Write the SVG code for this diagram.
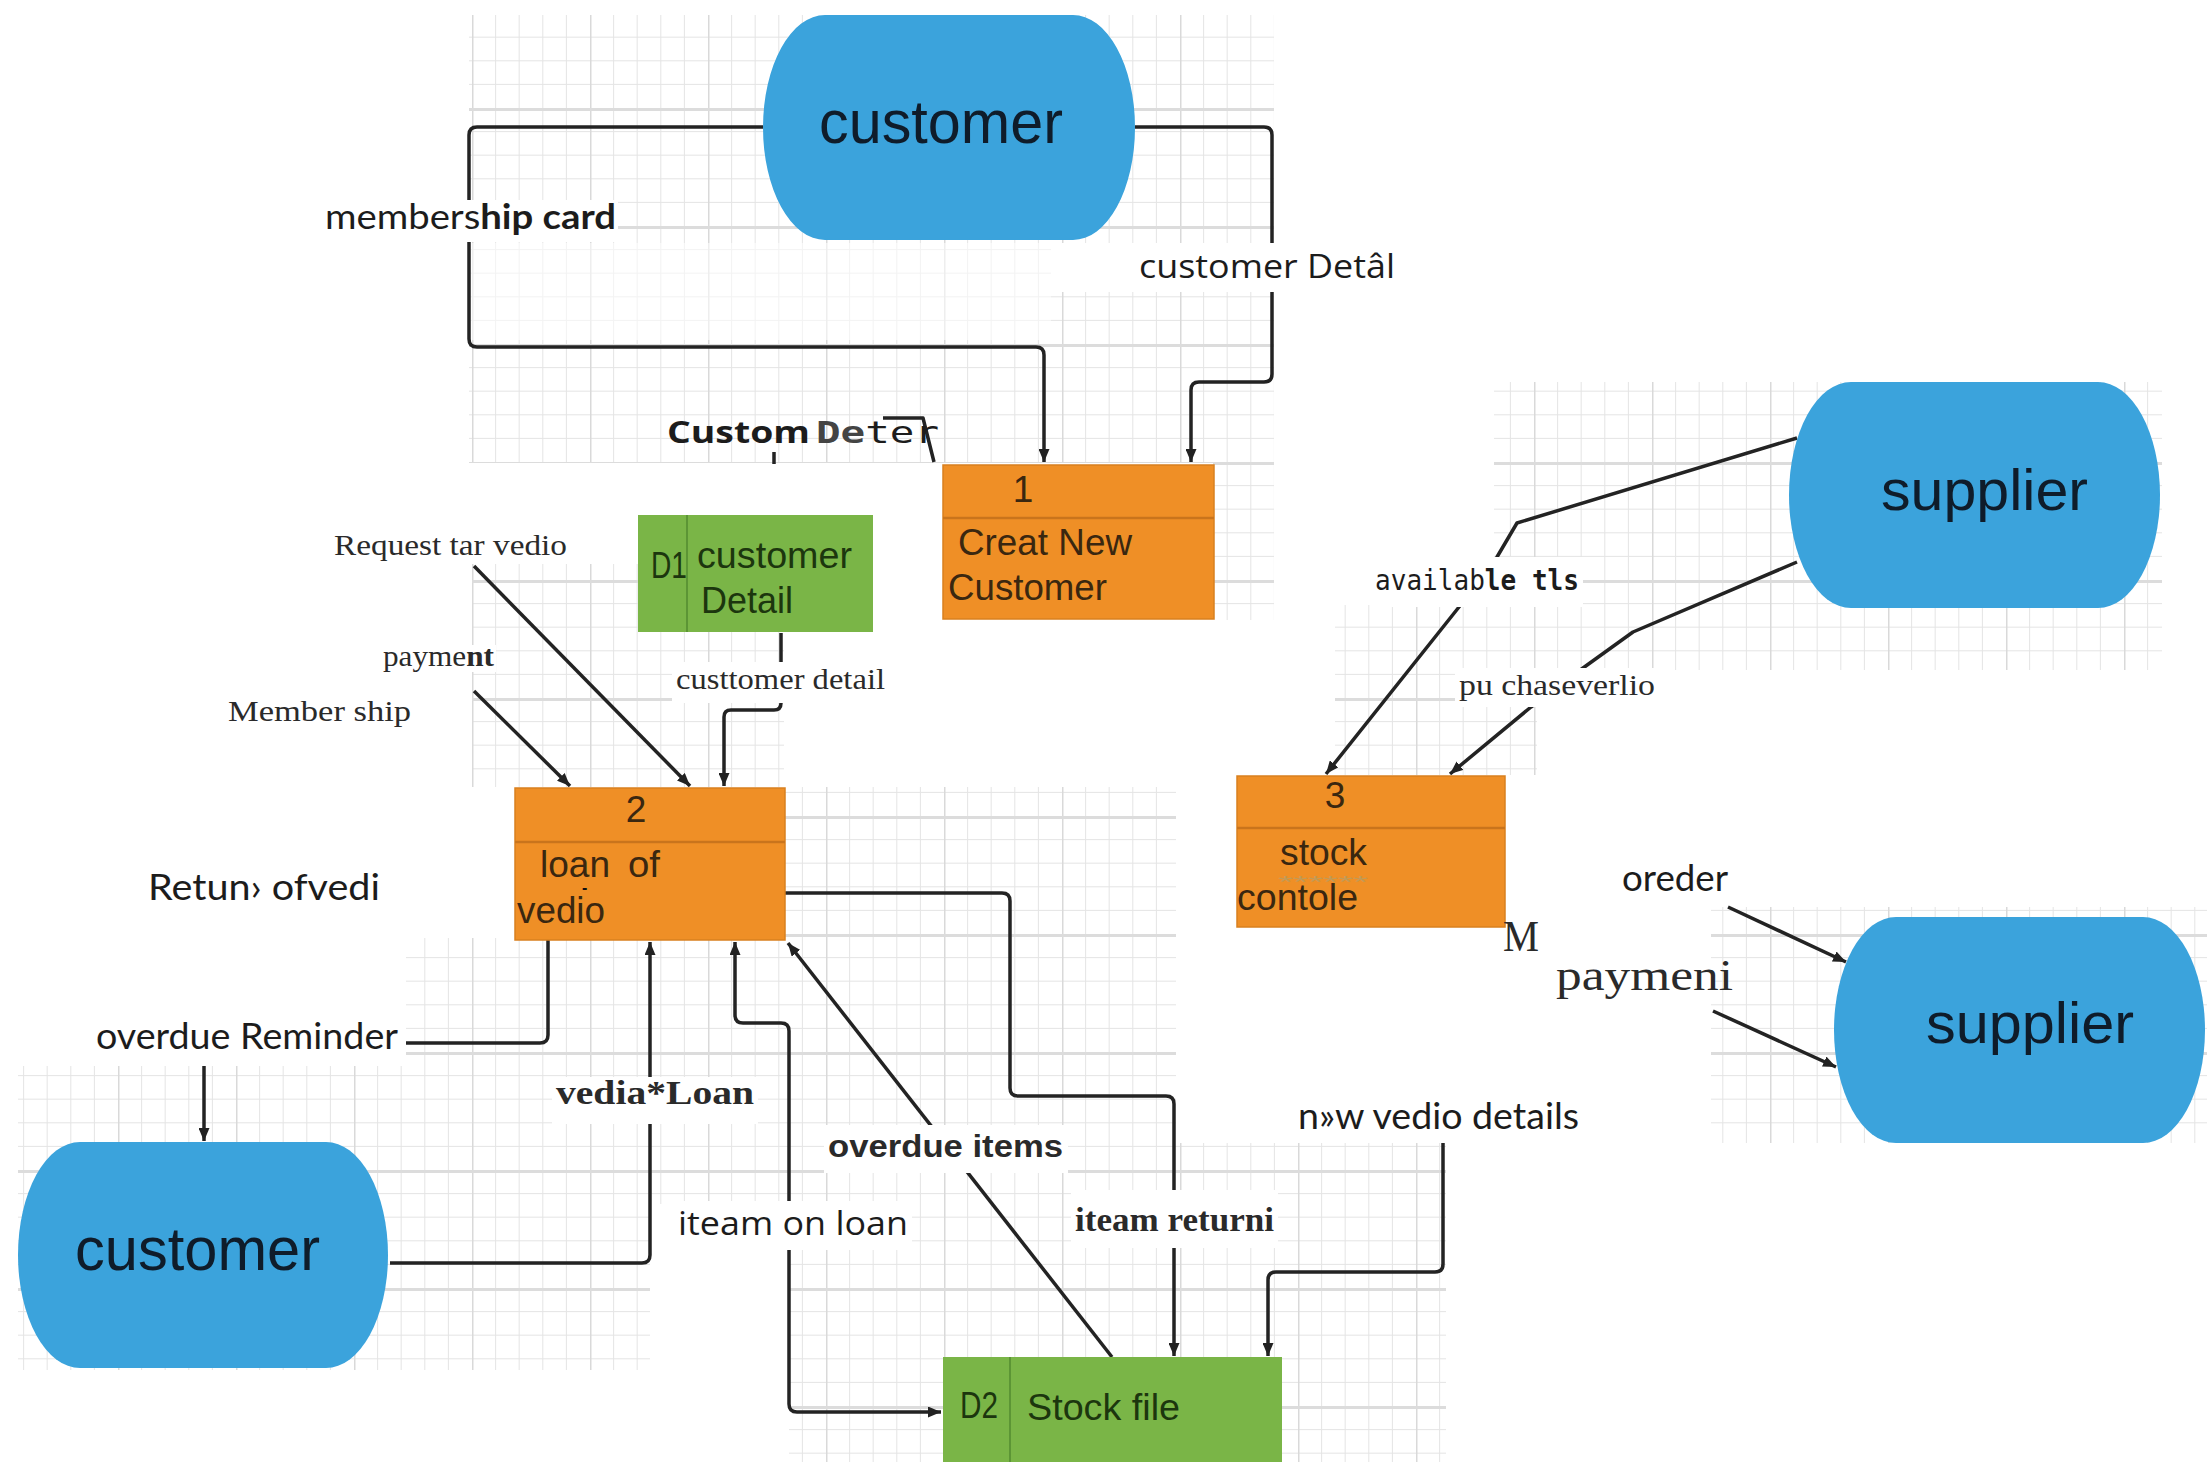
<svg xmlns="http://www.w3.org/2000/svg" width="2207" height="1462" viewBox="0 0 2207 1462">
<defs>
  <pattern id="grid" patternUnits="userSpaceOnUse" width="118" height="118" x="0" y="-10">
    <rect width="118" height="118" fill="#fff"/>
    <path d="M23.6 0V118M47.2 0V118M70.8 0V118M94.4 0V118M0 23.6H118M0 47.2H118M0 70.8H118M0 94.4H118" stroke="#e5e5e5" stroke-width="1" fill="none"/>
    <path d="M0.75 0V118" stroke="#d9d9d9" stroke-width="1.5"/>
    <path d="M0 1.5H118" stroke="#dcdcdc" stroke-width="3"/>
  </pattern>
  <marker id="ah" markerUnits="userSpaceOnUse" markerWidth="14" markerHeight="11" refX="13" refY="5.5" orient="auto-start-reverse">
    <path d="M0,0 L13,5.5 L0,11 z" fill="#222"/>
  </marker>
  <style>
    .ln{fill:none;stroke:#232323;stroke-width:3.5;stroke-linejoin:round}
    .ent{fill:#3ba3dc}
    .entt{font-family:"Liberation Sans",Arial,sans-serif;fill:#0f1c2a}
    .proc{fill:#ef8f26;stroke:#d9801f;stroke-width:1.5}
    .pdiv{stroke:#c9741c;stroke-width:2.5}
    .pt{font-family:"Liberation Sans",Arial,sans-serif;font-size:37px;fill:#3a2710}
    .ds{fill:#7ab547}
    .ddiv{stroke:#5c9535;stroke-width:2}
    .dt{font-family:"Liberation Sans",Arial,sans-serif;font-size:37px;fill:#1c360e}
    .grid{fill:url(#grid)}
    .bg{fill:#fff}
    .lato{font-family:Lato,"Liberation Sans",sans-serif;fill:#1c1c1c}
    .open{font-family:"Open Sans","Liberation Sans",sans-serif;fill:#1c1c1c}
    .serif{font-family:"Liberation Serif","Times New Roman",serif;fill:#2a2a2a}
    .mono{font-family:"DejaVu Sans Mono","Liberation Mono",monospace;fill:#1c1c1c}
  </style>
</defs>

<rect width="2207" height="1462" fill="#fff"/>

<g id="grid-background">
  <rect class="grid" x="469" y="15" width="805" height="448"/>
  <rect class="grid" x="1213" y="463" width="61" height="157"/>
  <rect class="grid" x="1494" y="382" width="668" height="288"/>
  <rect class="grid" x="1335" y="605" width="202" height="170"/>
  <rect class="grid" x="472" y="564" width="312" height="223"/>
  <rect class="grid" x="784" y="787" width="392" height="151"/>
  <rect class="grid" x="406" y="938" width="770" height="266"/>
  <rect class="grid" x="789" y="1204" width="387" height="258"/>
  <rect class="grid" x="406" y="1204" width="244" height="166"/>
  <rect class="grid" x="18" y="1066" width="388" height="304"/>
  <rect class="grid" x="1176" y="1143" width="270" height="319"/>
  <rect class="grid" x="1711" y="907" width="496" height="236"/>
  <rect x="468" y="243" width="583" height="97" fill="#fff" opacity="0.55"/>
  <rect x="1051" y="243" width="223" height="49" fill="#fff"/>
</g>

<g id="connectors" class="ln">
  <path id="flow-membership-card" d="M763,127 H477 Q469,127 469,135 V339 Q469,347 477,347 H1036 Q1044,347 1044,355 V462" marker-end="url(#ah)"/>
  <path id="flow-customer-detail" d="M1135,127 H1264 Q1272,127 1272,135 V374 Q1272,382 1264,382 H1199 Q1191,382 1191,390 V462" marker-end="url(#ah)"/>
  <path id="flow-custom-deter" d="M883,418 H923 L934,462 M774,452 V464"/>
  <path id="flow-request" d="M474,566 L690,786" marker-end="url(#ah)"/>
  <path id="flow-payment" d="M474,691 L570,786" marker-end="url(#ah)"/>
  <path id="flow-custtomer-detail" d="M781,633 V703 Q781,710 774,710 H731 Q724,710 724,717 V786" marker-end="url(#ah)"/>
  <path id="flow-overdue-reminder" d="M548,940 V1035 Q548,1043 540,1043 H406"/>
  <path id="flow-overdue-reminder-2" d="M204,1066 V1141" marker-end="url(#ah)"/>
  <path id="flow-vedia-loan" d="M390,1263 H642 Q650,1263 650,1255 V942" marker-end="url(#ah)"/>
  <path id="flow-iteam-on-loan" d="M735,942 V1015 Q735,1023 743,1023 H781 Q789,1023 789,1031 V1404 Q789,1412 797,1412 H941" marker-start="url(#ah)" marker-end="url(#ah)"/>
  <path id="flow-overdue-items" d="M1112,1357 L788,943" marker-end="url(#ah)"/>
  <path id="flow-iteam-returni" d="M785,893 H1002 Q1010,893 1010,901 V1088 Q1010,1096 1018,1096 H1166 Q1174,1096 1174,1104 V1356" marker-end="url(#ah)"/>
  <path id="flow-new-vedio" d="M1443,1143 V1264 Q1443,1272 1435,1272 H1276 Q1268,1272 1268,1280 V1356" marker-end="url(#ah)"/>
  <path id="flow-available" d="M1797,438 L1517,523 L1497,557 L1459,607 L1326,774" marker-end="url(#ah)"/>
  <path id="flow-purchase" d="M1797,562 L1633,632 L1583,668 L1531,707 L1450,774" marker-end="url(#ah)"/>
  <path id="flow-oreder" d="M1728,907 L1846,962" marker-end="url(#ah)"/>
  <path id="flow-paymeni" d="M1713,1011 L1836,1067" marker-end="url(#ah)"/>
</g>

<g id="customer-top">
  <path class="ent" d="M825,15 H1073 A62,112.5 0 0 1 1135,127.5 A62,112.5 0 0 1 1073,240 H825 A62,112.5 0 0 1 763,127.5 A62,112.5 0 0 1 825,15 Z"/>
  <text class="entt" x="819" y="143" font-size="61" textLength="244" lengthAdjust="spacingAndGlyphs">customer</text>
</g>

<g id="supplier-top">
  <path class="ent" d="M1851,382 H2098 A62,113 0 0 1 2160,495 A62,113 0 0 1 2098,608 H1851 A62,113 0 0 1 1789,495 A62,113 0 0 1 1851,382 Z"/>
  <text class="entt" x="1881" y="510" font-size="58" textLength="207" lengthAdjust="spacingAndGlyphs">supplier</text>
</g>

<g id="supplier-bottom">
  <path class="ent" d="M1896,917 H2143 A62,113 0 0 1 2205,1030 A62,113 0 0 1 2143,1143 H1896 A62,113 0 0 1 1834,1030 A62,113 0 0 1 1896,917 Z"/>
  <text class="entt" x="1926" y="1043" font-size="58" textLength="208" lengthAdjust="spacingAndGlyphs">supplier</text>
</g>

<g id="customer-bottom">
  <path class="ent" d="M80,1142 H326 A62,113 0 0 1 388,1255 A62,113 0 0 1 326,1368 H80 A62,113 0 0 1 18,1255 A62,113 0 0 1 80,1142 Z"/>
  <text class="entt" x="75" y="1270" font-size="61" textLength="245" lengthAdjust="spacingAndGlyphs">customer</text>
</g>

<g id="process-1">
  <rect class="proc" x="943" y="465" width="271" height="154"/>
  <line class="pdiv" x1="943" y1="518" x2="1214" y2="518"/>
  <text class="pt" x="1023" y="502" font-size="31" text-anchor="middle">1</text>
  <text class="pt" x="958" y="555" textLength="174" lengthAdjust="spacingAndGlyphs">Creat New</text>
  <text class="pt" x="948" y="600" textLength="159" lengthAdjust="spacingAndGlyphs">Customer</text>
</g>

<g id="process-2">
  <rect class="proc" x="515" y="788" width="270" height="152"/>
  <line class="pdiv" x1="515" y1="842" x2="785" y2="842"/>
  <text class="pt" x="636" y="822" font-size="31" text-anchor="middle">2</text>
  <text class="pt" x="540" y="877" textLength="70" lengthAdjust="spacingAndGlyphs">loan</text>
  <text class="pt" x="628" y="877" textLength="32" lengthAdjust="spacingAndGlyphs">of</text>
  <text x="582" y="893" font-family="Liberation Sans, sans-serif" font-size="16" font-weight="bold" fill="#111">-</text>
  <text class="pt" x="517" y="923" textLength="88" lengthAdjust="spacingAndGlyphs">vedio</text>
</g>

<g id="process-3">
  <rect class="proc" x="1237" y="776" width="268" height="151"/>
  <line class="pdiv" x1="1237" y1="828" x2="1505" y2="828"/>
  <text class="pt" x="1335" y="808" font-size="31" text-anchor="middle">3</text>
  <text class="pt" x="1280" y="865" textLength="87" lengthAdjust="spacingAndGlyphs">stock</text>
  <text x="1278" y="888" font-family="Liberation Sans, sans-serif" font-size="17" fill="#c39a55" textLength="90" lengthAdjust="spacingAndGlyphs">******</text>
  <text class="pt" x="1237" y="910" textLength="121" lengthAdjust="spacingAndGlyphs">contole</text>
</g>

<g id="store-d1">
  <rect class="ds" x="638" y="515" width="235" height="117"/>
  <line class="ddiv" x1="687" y1="515" x2="687" y2="632"/>
  <text class="dt" x="651" y="578" font-size="24" textLength="36" lengthAdjust="spacingAndGlyphs">D1</text>
  <text class="dt" x="697" y="568" textLength="155" lengthAdjust="spacingAndGlyphs">customer</text>
  <text class="dt" x="701" y="613" textLength="92" lengthAdjust="spacingAndGlyphs">Detail</text>
</g>

<g id="store-d2">
  <rect class="ds" x="943" y="1357" width="339" height="110"/>
  <line class="ddiv" x1="1010" y1="1357" x2="1010" y2="1462"/>
  <text class="dt" x="960" y="1418" font-size="32" textLength="38" lengthAdjust="spacingAndGlyphs">D2</text>
  <text class="dt" x="1027" y="1420" textLength="153" lengthAdjust="spacingAndGlyphs">Stock file</text>
</g>

<g id="labels">
  <rect class="bg" x="322" y="200" width="296" height="42"/>
  <text class="lato" x="325" y="229" font-size="35" textLength="291" lengthAdjust="spacingAndGlyphs">members<tspan font-weight="bold">hip card</tspan></text>

  <rect class="bg" x="1136" y="243" width="264" height="49"/>
  <text class="open" x="1139" y="278" font-size="32" textLength="256" lengthAdjust="spacingAndGlyphs">customer Detâl</text>

  <text class="open" x="667" y="443" font-size="30" font-weight="bold" textLength="143" lengthAdjust="spacingAndGlyphs">Custom</text>
  <text class="mono" x="816" y="443" font-size="31" textLength="123" lengthAdjust="spacingAndGlyphs"><tspan font-weight="bold" fill="#444">De</tspan>ter</text>

  <text class="serif" x="334" y="555" font-size="29" fill="#3a3a3a" textLength="233" lengthAdjust="spacingAndGlyphs">Request tar vedio</text>

  <rect class="bg" x="380" y="645" width="116" height="27"/>
  <text class="serif" x="383" y="666" font-size="29" textLength="111" lengthAdjust="spacingAndGlyphs">payme<tspan font-weight="bold">nt</tspan></text>

  <text class="serif" x="228" y="721" font-size="30" fill="#333" textLength="183" lengthAdjust="spacingAndGlyphs">Member ship</text>

  <rect class="bg" x="672" y="662" width="217" height="41"/>
  <text class="serif" x="676" y="689" font-size="29" fill="#333" textLength="209" lengthAdjust="spacingAndGlyphs">custtomer detail</text>

  <text class="lato" x="148" y="900" font-size="36" fill="#333" textLength="232" lengthAdjust="spacingAndGlyphs">Retun› ofvedi</text>

  <text class="lato" x="96" y="1049" font-size="36" textLength="302" lengthAdjust="spacingAndGlyphs">overdue Reminder</text>

  <rect class="bg" x="552" y="1077" width="206" height="47"/>
  <text class="serif" x="556" y="1104" font-size="34" font-weight="bold" fill="#1c1c1c" textLength="198" lengthAdjust="spacingAndGlyphs">vedia*Loan</text>

  <rect class="bg" x="824" y="1125" width="244" height="48"/>
  <text x="828" y="1157" font-family="Liberation Sans, Arial, sans-serif" font-size="32" font-weight="bold" fill="#2a2a2a" textLength="235" lengthAdjust="spacingAndGlyphs">overdue items</text>

  <rect class="bg" x="674" y="1201" width="238" height="49"/>
  <text class="open" x="678" y="1235" font-size="33" textLength="230" lengthAdjust="spacingAndGlyphs">iteam on loan</text>

  <rect class="bg" x="1071" y="1190" width="207" height="58"/>
  <text class="serif" x="1075" y="1231" font-size="34" font-weight="bold" fill="#1c1c1c" textLength="199" lengthAdjust="spacingAndGlyphs">iteam returni</text>

  <text class="lato" x="1298" y="1129" font-size="36" textLength="281" lengthAdjust="spacingAndGlyphs">n»w vedio details</text>

  <rect class="bg" x="1370" y="557" width="213" height="50"/>
  <text class="mono" x="1375" y="590" font-size="29" textLength="204" lengthAdjust="spacingAndGlyphs">availab<tspan font-weight="bold">le tls</tspan></text>

  <rect class="bg" x="1455" y="668" width="206" height="39"/>
  <text class="serif" x="1459" y="695" font-size="29" fill="#1c1c1c" textLength="196" lengthAdjust="spacingAndGlyphs">pu chaseverlio</text>

  <text class="lato" x="1622" y="891" font-size="36" textLength="106" lengthAdjust="spacingAndGlyphs">oreder</text>

  <text class="serif" x="1503" y="951" font-size="44" fill="#333" textLength="36" lengthAdjust="spacingAndGlyphs">M</text>

  <text class="serif" x="1556" y="990" font-size="44" fill="#1c1c1c" textLength="177" lengthAdjust="spacingAndGlyphs">paymeni</text>
</g>
</svg>
